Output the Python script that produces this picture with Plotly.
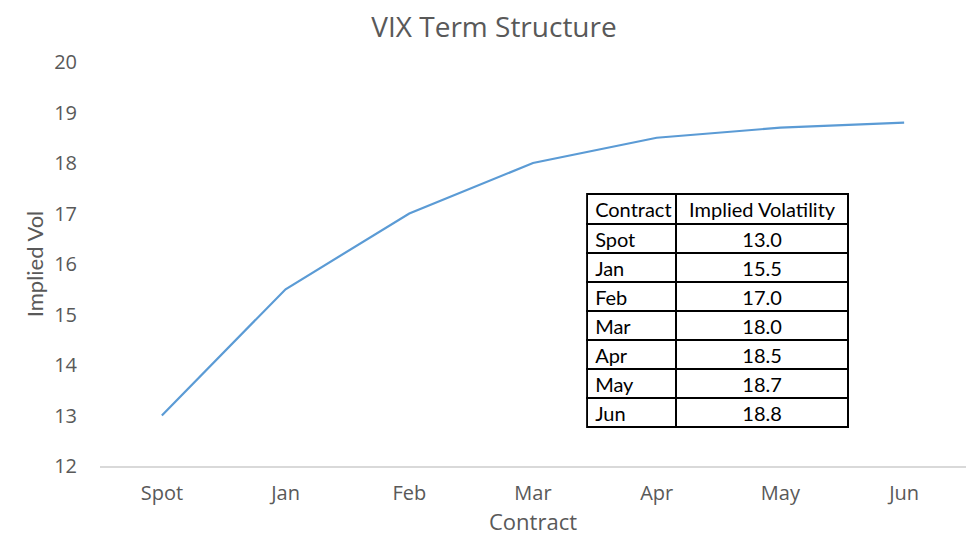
import plotly.graph_objects as go

contracts = ["Spot", "Jan", "Feb", "Mar", "Apr", "May", "Jun"]
implied_vol = [13.0, 15.5, 17.0, 18.0, 18.5, 18.7, 18.8]
y_ticks = [12, 13, 14, 15, 16, 17, 18, 19, 20]

GRAY = "#595959"
axis_font = dict(family="Open Sans, Segoe UI, sans-serif", size=20, color=GRAY)
table_font = dict(family="Lato, Carlito, sans-serif", size=20, color="black")

fig = go.Figure()

fig.add_trace(go.Scatter(
    x=contracts,
    y=implied_vol,
    mode="lines",
    line=dict(color="#5B9BD5", width=2.2),
    showlegend=False,
    hoverinfo="x+y",
))

# data table overlay
fig.add_trace(go.Table(
    domain=dict(x=[0.5625, 0.8645], y=[0.09, 0.673]),
    columnwidth=[89, 172],
    header=dict(
        values=["Contract", "Implied Volatility"],
        align=["left", "center"],
        fill_color="white",
        line=dict(color="black", width=2),
        font=table_font,
        height=30,
    ),
    cells=dict(
        values=[contracts, implied_vol],
        format=[None, ".1f"],
        align=["left", "center"],
        fill_color="white",
        line=dict(color="black", width=2),
        font=table_font,
        height=29,
    ),
))

# page body adds an 8px offset, so the figure is sized 8px smaller
fig.update_layout(
    width=972,
    height=543,
    paper_bgcolor="white",
    plot_bgcolor="white",
    margin=dict(l=92, r=14, t=54, b=85, autoexpand=False),
    title=dict(
        text="VIX Term Structure",
        x=0.5, xref="container", xanchor="center",
        y=1 - 19 / 543, yref="container", yanchor="middle",
        font=dict(family="Open Sans, Segoe UI, sans-serif", size=28, color=GRAY),
    ),
    xaxis=dict(
        type="category",
        range=[-0.5, 6.5],
        showgrid=False,
        zeroline=False,
        showline=True,
        linecolor="#d9d9d9",
        linewidth=1.5,
        ticks="",
        tickfont=axis_font,
        ticklabelstandoff=8,
        automargin=False,
        title=dict(text="Contract", font=dict(family="Open Sans, Segoe UI, sans-serif", size=22, color=GRAY), standoff=9),
    ),
    yaxis=dict(
        range=[12, 20],
        tickvals=y_ticks,
        showgrid=False,
        zeroline=False,
        showline=False,
        ticks="",
        tickfont=axis_font,
        ticklabelstandoff=22,
        automargin=False,
        title=dict(text="Implied Vol", font=dict(family="Lato, Open Sans, sans-serif", size=22, color=GRAY), standoff=4),
    ),
)

fig.write_html("out.html")
